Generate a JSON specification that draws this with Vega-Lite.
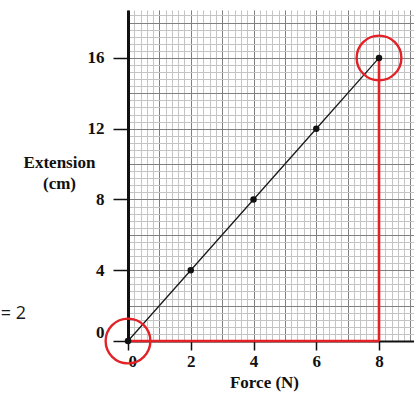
{
  "$schema": "https://vega.github.io/schema/vega-lite/v6.json",
  "width": 286,
  "height": 331,
  "autosize": {"type": "none"},
  "padding": {"left": 128, "top": 10, "right": 0, "bottom": 53},
  "background": "white",
  "config": {
    "view": {"stroke": null},
    "axis": {"labelFont": "Liberation Serif", "titleFont": "Liberation Serif"}
  },
  "datasets": {
    "readings": [
      {"force": 0, "ext": 0},
      {"force": 2, "ext": 4},
      {"force": 4, "ext": 8},
      {"force": 6, "ext": 12},
      {"force": 8, "ext": 16}
    ],
    "guides": [
      {"force": 0, "force2": 8, "ext": 0, "ext2": 0},
      {"force": 8, "force2": 8, "ext": 0, "ext2": 16}
    ],
    "marked": [
      {"force": 0, "ext": 0},
      {"force": 8, "ext": 16}
    ],
    "notes": [
      {"force": -3.25, "ext": 1.55, "label": "= 2"}
    ]
  },
  "layer": [
    {
      "data": {"name": "readings"},
      "mark": {"type": "point", "opacity": 0},
      "encoding": {
        "x": {
          "field": "force", "type": "quantitative",
          "scale": {"domain": [0, 9.115], "nice": false, "zero": false},
          "axis": {
            "orient": "bottom", "grid": true, "gridColor": "#c4c4c4", "gridWidth": 1,
            "domain": false, "ticks": false, "labels": false, "title": null,
            "values": [0,0.2,0.4,0.6,0.8,1,1.2,1.4,1.6,1.8,2,2.2,2.4,2.6,2.8,3,3.2,3.4,3.6,3.8,4,4.2,4.4,4.6,4.8,5,5.2,5.4,5.6,5.8,6,6.2,6.4,6.6,6.8,7,7.2,7.4,7.6,7.8,8,8.2,8.4,8.6,8.8,9]
          }
        },
        "y": {
          "field": "ext", "type": "quantitative",
          "scale": {"domain": [0, 18.71], "nice": false, "zero": false},
          "axis": {
            "orient": "left", "grid": true, "gridColor": "#c4c4c4", "gridWidth": 1,
            "domain": false, "ticks": false, "labels": false, "title": null,
            "values": [0,0.4,0.8,1.2,1.6,2,2.4,2.8,3.2,3.6,4,4.4,4.8,5.2,5.6,6,6.4,6.8,7.2,7.6,8,8.4,8.8,9.2,9.6,10,10.4,10.8,11.2,11.6,12,12.4,12.8,13.2,13.6,14,14.4,14.8,15.2,15.6,16,16.4,16.8,17.2,17.6,18,18.4]
          }
        }
      }
    },
    {
      "data": {"name": "readings"},
      "mark": {"type": "point", "opacity": 0},
      "encoding": {
        "x": {
          "field": "force", "type": "quantitative",
          "scale": {"domain": [0, 9.115], "nice": false, "zero": false},
          "axis": {
            "orient": "bottom", "grid": true, "gridColor": "#808080", "gridWidth": 1,
            "domain": false, "ticks": false, "labels": false, "title": null,
            "values": [0,1,2,3,4,5,6,7,8,9]
          }
        },
        "y": {
          "field": "ext", "type": "quantitative",
          "scale": {"domain": [0, 18.71], "nice": false, "zero": false},
          "axis": {
            "orient": "left", "grid": true, "gridColor": "#808080", "gridWidth": 1,
            "domain": false, "ticks": false, "labels": false, "title": null,
            "values": [0,2,4,6,8,10,12,14,16,18]
          }
        }
      }
    },
    {
      "data": {"name": "readings"},
      "mark": {"type": "line", "color": "#1a1a1a", "strokeWidth": 1.3},
      "encoding": {
        "x": {
          "field": "force", "type": "quantitative",
          "scale": {"domain": [0, 9.115], "nice": false, "zero": false},
          "axis": {
            "orient": "bottom", "grid": false, "values": [0, 2, 4, 6, 8],
            "domain": true, "domainColor": "#111111", "domainWidth": 2,
            "ticks": true, "tickColor": "#111111", "tickWidth": 1.5, "tickSize": 9,
            "labelFontSize": 17, "labelFontWeight": "bold", "labelColor": "#111111", "labelPadding": 3,
            "title": "Force (N)", "titleFontSize": 17, "titleFontWeight": "bold", "titleColor": "#111111",
            "titleX": 136, "titleY": 46, "titleAlign": "center", "titleBaseline": "alphabetic"
          }
        },
        "y": {
          "field": "ext", "type": "quantitative",
          "scale": {"domain": [0, 18.71], "nice": false, "zero": false},
          "axis": {
            "orient": "left", "grid": false, "values": [0, 4, 8, 12, 16],
            "domain": true, "domainColor": "#111111", "domainWidth": 3,
            "ticks": true, "tickColor": "#111111", "tickWidth": 1.5, "tickSize": 15,
            "labelFontSize": 17, "labelFontWeight": "bold", "labelColor": "#111111", "labelPadding": 9,
            "labelFlush": true,
            "title": ["Extension", "(cm)"], "titleAngle": 0, "titleFontSize": 17, "titleFontWeight": "bold",
            "titleColor": "#111111", "titleX": -69, "titleY": 152, "titleAlign": "center",
            "titleBaseline": "middle", "titleLineHeight": 21
          }
        }
      }
    },
    {
      "data": {"name": "guides"},
      "mark": {"type": "rule", "color": "#e32227", "strokeWidth": 2.6},
      "encoding": {
        "x": {"field": "force", "type": "quantitative", "scale": {"domain": [0, 9.115], "nice": false, "zero": false}, "axis": null},
        "x2": {"field": "force2"},
        "y": {"field": "ext", "type": "quantitative", "scale": {"domain": [0, 18.71], "nice": false, "zero": false}, "axis": null},
        "y2": {"field": "ext2"}
      }
    },
    {
      "data": {"name": "readings"},
      "mark": {"type": "point", "filled": true, "color": "#111111", "size": 42, "opacity": 1},
      "encoding": {
        "x": {"field": "force", "type": "quantitative", "scale": {"domain": [0, 9.115], "nice": false, "zero": false}, "axis": null},
        "y": {"field": "ext", "type": "quantitative", "scale": {"domain": [0, 18.71], "nice": false, "zero": false}, "axis": null}
      }
    },
    {
      "data": {"name": "marked"},
      "mark": {"type": "point", "filled": false, "color": "#e32227", "size": 2000, "strokeWidth": 2.4, "opacity": 1},
      "encoding": {
        "x": {"field": "force", "type": "quantitative", "scale": {"domain": [0, 9.115], "nice": false, "zero": false}, "axis": null},
        "y": {"field": "ext", "type": "quantitative", "scale": {"domain": [0, 18.71], "nice": false, "zero": false}, "axis": null}
      }
    },
    {
      "data": {"name": "notes"},
      "mark": {"type": "text", "align": "right", "baseline": "middle", "font": "Open Sans", "fontSize": 18, "color": "#1a1a1a"},
      "encoding": {
        "x": {"field": "force", "type": "quantitative", "scale": {"domain": [0, 9.115], "nice": false, "zero": false}, "axis": null},
        "y": {"field": "ext", "type": "quantitative", "scale": {"domain": [0, 18.71], "nice": false, "zero": false}, "axis": null},
        "text": {"field": "label"}
      }
    }
  ],
  "resolve": {"axis": {"x": "independent", "y": "independent"}}
}
